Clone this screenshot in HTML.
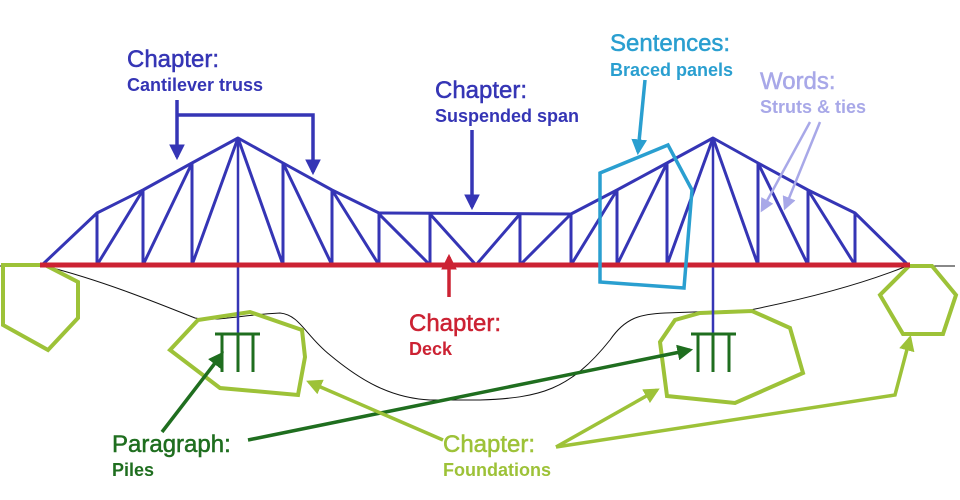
<!DOCTYPE html>
<html><head><meta charset="utf-8"><style>
html,body{margin:0;padding:0;background:#fff;}
svg{display:block;}
text{font-family:"Liberation Sans",Arial,sans-serif;}
.h{font-size:24px;stroke-width:0.5px;}
.s{font-size:18px;font-weight:bold;}
</style></head><body>
<svg width="960" height="500" viewBox="0 0 960 500" xmlns="http://www.w3.org/2000/svg">
<defs>
<marker id="ab" viewBox="0 0 10 10" refX="8" refY="5" markerWidth="4.5" markerHeight="4.5" orient="auto"><path d="M0,0L10,5L0,10z" fill="#3535b5"/></marker>
<marker id="ac" viewBox="0 0 10 10" refX="8" refY="5" markerWidth="4.5" markerHeight="4.5" orient="auto"><path d="M0,0L10,5L0,10z" fill="#2a9fd0"/></marker>
<marker id="aw" viewBox="0 0 10 10" refX="8" refY="5" markerWidth="5.5" markerHeight="5.5" orient="auto"><path d="M0,0L10,5L0,10z" fill="#a8a8e8"/></marker>
<marker id="ar" viewBox="0 0 10 10" refX="8" refY="5" markerWidth="4.5" markerHeight="4.5" orient="auto"><path d="M0,0L10,5L0,10z" fill="#cc2233"/></marker>
<marker id="ag" viewBox="0 0 10 10" refX="8" refY="5" markerWidth="4.5" markerHeight="4.5" orient="auto"><path d="M0,0L10,5L0,10z" fill="#1f6e1f"/></marker>
<marker id="al" viewBox="0 0 10 10" refX="8" refY="5" markerWidth="4.5" markerHeight="4.5" orient="auto"><path d="M0,0L10,5L0,10z" fill="#9dc238"/></marker>
</defs>
<path d="M0,266 L45,266 C100,280 150,300 195,318 C215,322 240,315 280,313 C300,315 305,335 330,355 C360,380 390,398 430,400 L480,400 C540,398 570,390 610,340 C625,318 640,314 665,313 L750,310 C800,300 860,285 907,266 L955,266" fill="none" stroke="#111" stroke-width="1"/>
<g fill="none" stroke="#9dc238" stroke-width="4" stroke-linejoin="miter">
<polygon points="3,265 45,265 78,282 78,318 48,350 3,325"/>
<polygon points="198,320 250,312 302,330 305,357 298,395 220,388 170,350"/>
<polygon points="660,342 675,320 700,313 752,311 790,328 803,373 735,403 667,396"/>
<polygon points="909,266 932,266 956,295 943,334 903,334 880,295"/>
</g>
<g stroke="#3535b5" stroke-width="2.5">
<line x1="238" y1="138" x2="238" y2="334"/>
<line x1="713" y1="138" x2="713" y2="334"/>
</g>
<g fill="none" stroke="#3535b5" stroke-width="3" stroke-linejoin="round">
<polyline points="42,265 97,213 143,190 192,163 238,138 283,163 332,190 379,213 571,214 617,190 667,163 713,138 758,163 808,190 855,213 908,265"/>
<line x1="97" y1="213" x2="97" y2="265"/><line x1="143" y1="190" x2="143" y2="265"/><line x1="192" y1="163" x2="192" y2="265"/>
<line x1="283" y1="163" x2="283" y2="265"/><line x1="332" y1="190" x2="332" y2="265"/><line x1="379" y1="213" x2="379" y2="265"/>
<line x1="430" y1="214" x2="430" y2="265"/><line x1="520" y1="214" x2="520" y2="265"/><line x1="571" y1="214" x2="571" y2="265"/>
<line x1="617" y1="190" x2="617" y2="265"/><line x1="667" y1="163" x2="667" y2="265"/>
<line x1="758" y1="163" x2="758" y2="265"/><line x1="808" y1="190" x2="808" y2="265"/><line x1="855" y1="213" x2="855" y2="265"/>
<line x1="97" y1="265" x2="143" y2="190"/><line x1="143" y1="265" x2="192" y2="163"/><line x1="192" y1="265" x2="238" y2="138"/>
<line x1="238" y1="138" x2="283" y2="265"/><line x1="283" y1="163" x2="332" y2="265"/><line x1="332" y1="190" x2="379" y2="265"/>
<line x1="379" y1="214" x2="430" y2="265"/><line x1="430" y1="214" x2="476" y2="265"/><line x1="476" y1="265" x2="520" y2="214"/><line x1="520" y1="265" x2="571" y2="214"/>
<line x1="571" y1="265" x2="617" y2="190"/><line x1="617" y1="265" x2="667" y2="163"/><line x1="667" y1="265" x2="713" y2="138"/>
<line x1="713" y1="138" x2="758" y2="265"/><line x1="758" y1="163" x2="808" y2="265"/><line x1="808" y1="190" x2="855" y2="265"/>
</g>
<line x1="40" y1="265" x2="910" y2="265" stroke="#cc2233" stroke-width="5"/>
<g stroke="#1f6e1f" stroke-width="3" fill="none">
<line x1="215" y1="334" x2="260" y2="334"/><line x1="222" y1="334" x2="222" y2="372"/><line x1="238" y1="334" x2="238" y2="372"/><line x1="253" y1="334" x2="253" y2="372"/>
<line x1="691" y1="334" x2="736" y2="334"/><line x1="698" y1="334" x2="698" y2="372"/><line x1="713" y1="334" x2="713" y2="372"/><line x1="729" y1="334" x2="729" y2="372"/>
</g>
<polygon points="600,173 668,145 692,190 684,288 600,282" fill="none" stroke="#2a9fd0" stroke-width="3.5"/>
<g fill="none" stroke-width="3.5">
<line x1="177" y1="100" x2="177" y2="157" stroke="#3535b5" marker-end="url(#ab)"/>
<polyline points="177,115 313,115 313,172" stroke="#3535b5" marker-end="url(#ab)"/>
<line x1="472" y1="130" x2="472" y2="207" stroke="#3535b5" marker-end="url(#ab)"/>
<line x1="645" y1="80" x2="638" y2="152" stroke="#2a9fd0" marker-end="url(#ac)"/>
<line x1="810" y1="122" x2="762" y2="210" stroke="#a8a8e8" stroke-width="2.5" marker-end="url(#aw)"/>
<line x1="820" y1="122" x2="785" y2="208" stroke="#a8a8e8" stroke-width="2.5" marker-end="url(#aw)"/>
<line x1="449" y1="297" x2="449" y2="257" stroke="#cc2233" marker-end="url(#ar)"/>
<line x1="162" y1="432" x2="222" y2="354" stroke="#1f6e1f" marker-end="url(#ag)"/>
<line x1="248" y1="440" x2="690" y2="350" stroke="#1f6e1f" marker-end="url(#ag)"/>
<line x1="443" y1="440" x2="309" y2="382" stroke="#9dc238" marker-end="url(#al)"/>
<line x1="556" y1="447" x2="657" y2="390" stroke="#9dc238" marker-end="url(#al)"/>
<polyline points="556,447 895,395 910,338" stroke="#9dc238" marker-end="url(#al)"/>
</g>
<text x="127" y="67" class="h" fill="#3535b5" stroke="#3535b5">Chapter:</text>
<text x="127" y="91" class="s" fill="#3535b5">Cantilever truss</text>
<text x="435" y="98" class="h" fill="#3535b5" stroke="#3535b5">Chapter:</text>
<text x="435" y="122" class="s" fill="#3535b5">Suspended span</text>
<text x="610" y="51" class="h" fill="#2a9fd0" stroke="#2a9fd0">Sentences:</text>
<text x="610" y="76" class="s" fill="#2a9fd0">Braced panels</text>
<text x="760" y="89" class="h" fill="#a8a8e8" stroke="#a8a8e8">Words:</text>
<text x="760" y="113" class="s" fill="#a8a8e8">Struts &amp; ties</text>
<text x="409" y="331" class="h" fill="#cc2233" stroke="#cc2233">Chapter:</text>
<text x="409" y="355" class="s" fill="#cc2233">Deck</text>
<text x="112" y="452" class="h" fill="#1f6e1f" stroke="#1f6e1f">Paragraph:</text>
<text x="112" y="476" class="s" fill="#1f6e1f">Piles</text>
<text x="443" y="452" class="h" fill="#9dc238" stroke="#9dc238">Chapter:</text>
<text x="443" y="476" class="s" fill="#9dc238">Foundations</text>
</svg>
</body></html>
